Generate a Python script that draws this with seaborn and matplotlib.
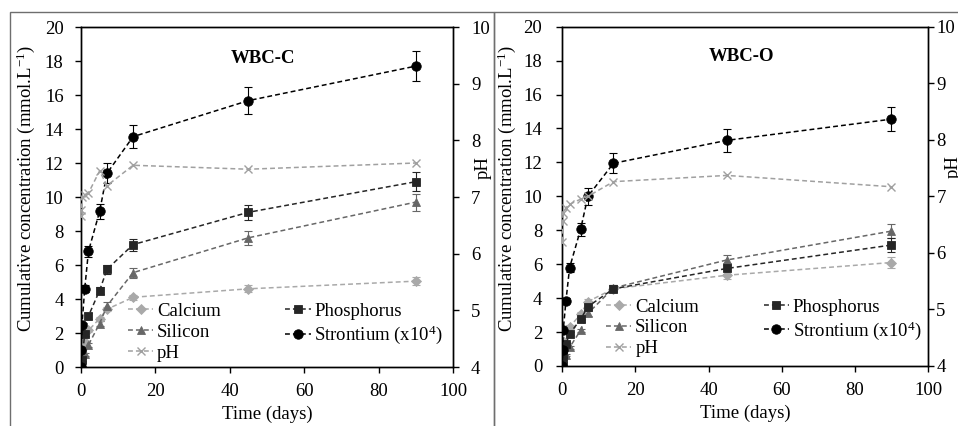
import numpy as np
import pandas as pd
import matplotlib
matplotlib.use("Agg")
import matplotlib.pyplot as plt
import seaborn as sns
from matplotlib.patches import Rectangle

# ---------------- data ----------------
time_days = [0, 0.083, 0.25, 1, 2, 5, 7, 14, 45, 90]

# WBC-C
c_calcium = [0, 0.3, 0.8, 1.5, 2.15, 2.85, 3.4, 4.1, 4.6, 5.05]
c_calcium_err = [0, 0.05, 0.05, 0.1, 0.1, 0.12, 0.12, 0.15, 0.2, 0.25]
c_phosphorus = [0, 0.15, 0.4, 1.95, 3.0, 4.5, 5.75, 7.2, 9.1, 10.9]
c_phosphorus_err = [0, 0.05, 0.05, 0.1, 0.15, 0.2, 0.25, 0.35, 0.45, 0.55]
c_silicon = [0, 0.1, 0.3, 0.75, 1.3, 2.55, 3.6, 5.55, 7.6, 9.7]
c_silicon_err = [0, 0.05, 0.05, 0.1, 0.1, 0.15, 0.2, 0.3, 0.4, 0.5]
c_strontium = [0, 1.02, 2.45, 4.6, 6.8, 9.15, 11.4, 13.55, 15.67, 17.7]
c_strontium_err = [0, 0.05, 0.1, 0.2, 0.3, 0.45, 0.6, 0.68, 0.78, 0.88]
c_ph = [6.66, 6.77, 7.0, 7.03, 7.07, 7.46, 7.2, 7.56, 7.49, 7.6]

# WBC-O
o_calcium = [0, 0.6, 1.5, 2.1, 2.3, 3.05, 3.8, 4.55, 5.35, 6.1]
o_calcium_err = [0, 0.05, 0.05, 0.1, 0.1, 0.12, 0.12, 0.15, 0.25, 0.3]
o_phosphorus = [0, 0.3, 0.7, 1.3, 1.9, 2.75, 3.5, 4.55, 5.75, 7.13]
o_phosphorus_err = [0, 0.05, 0.05, 0.1, 0.1, 0.15, 0.2, 0.2, 0.3, 0.4]
o_silicon = [0, 0.1, 0.3, 0.65, 1.1, 2.1, 3.1, 4.6, 6.25, 7.95]
o_silicon_err = [0, 0.05, 0.05, 0.05, 0.1, 0.1, 0.15, 0.2, 0.3, 0.42]
o_strontium = [0, 0.95, 2.1, 3.85, 5.8, 8.05, 10.0, 11.95, 13.3, 14.55]
o_strontium_err = [0, 0.05, 0.1, 0.15, 0.25, 0.4, 0.5, 0.6, 0.67, 0.72]
o_ph = [6.2, 6.57, 6.7, 6.8, 6.86, 6.95, 7.0, 7.26, 7.37, 7.17]

panel_titles = ["WBC-C", "WBC-O"]
series_labels = ["Calcium", "Phosphorus", "Silicon", "Strontium (x10$^{4}$)", "pH"]
x_ticks = [0, 20, 40, 60, 80, 100]
y_ticks = [0, 2, 4, 6, 8, 10, 12, 14, 16, 18, 20]
ph_ticks = [4, 5, 6, 7, 8, 9, 10]

# ---------------- style ----------------
sns.set_theme(style="ticks")
plt.rcParams["font.family"] = ["Liberation Serif", "DejaVu Serif"]
plt.rcParams["mathtext.default"] = "regular"
FS = 13.5

col_ca = "#a9a9a9"
col_p = "#262626"
col_si = "#676767"
col_sr = "#000000"
col_ph = "#a0a0a0"

W, H = 958, 426
fig = plt.figure(figsize=(W / 100, H / 100), dpi=100)
fig.patch.set_facecolor("white")


def fx(px):
    return px / W


def fy(py):
    return 1 - py / H


# chart frames
for x0, x1 in [(10, 494), (494, 980)]:
    fig.add_artist(Rectangle((fx(x0), -0.1), fx(x1 - x0), fy(12) + 0.1,
                             transform=fig.transFigure, fill=False,
                             edgecolor="#6e6e6e", linewidth=1.0, clip_on=False))

panels = [
    dict(rect=(81, 27, 453, 367), title=panel_titles[0],
         ca=c_calcium, ca_e=c_calcium_err, p=c_phosphorus, p_e=c_phosphorus_err,
         si=c_silicon, si_e=c_silicon_err, sr=c_strontium, sr_e=c_strontium_err, ph=c_ph,
         ylab=(-0.118, 0.524), phlab=(1.059, 0.588), rpad=8.5, lpad=8,
         title_pos=(0.488, 0.906), leg=(0.126, 0.189)),
    dict(rect=(562.3, 26.7, 928, 366), title=panel_titles[1],
         ca=o_calcium, ca_e=o_calcium_err, p=o_phosphorus, p_e=o_phosphorus_err,
         si=o_silicon, si_e=o_silicon_err, sr=o_strontium, sr_e=o_strontium_err, ph=o_ph,
         ylab=(-0.121, 0.523), phlab=(1.0465, 0.588), rpad=1.5, lpad=10,
         title_pos=(0.49, 0.911), leg=(0.12, 0.199)),
]

dash = (3.2, 2.0)

for pn in panels:
    x0, y0, x1, y1 = pn["rect"]
    ax = fig.add_axes([fx(x0), fy(y1), fx(x1 - x0), (y1 - y0) / H])
    ax2 = ax.twinx()

    specs = [
        ("Calcium", pn["ca"], pn["ca_e"], col_ca, "D", 5.2),
        ("Silicon", pn["si"], pn["si_e"], col_si, "^", 6.0),
        ("Phosphorus", pn["p"], pn["p_e"], col_p, "s", 6.2),
        ("Strontium", pn["sr"], pn["sr_e"], col_sr, "o", 6.8),
    ]
    handles = {}
    for name, vals, errs, col, mk, ms in specs:
        df = pd.DataFrame({"t": time_days, "v": vals})
        sns.lineplot(data=df, x="t", y="v", ax=ax, color=col, marker=mk,
                     markersize=ms, markeredgecolor=col, markeredgewidth=0.6,
                     linewidth=1.1, errorbar=None, legend=False, zorder=3)
        line = ax.lines[-1]
        line.set_dashes(dash)
        handles[name] = line
        ax.errorbar(time_days, vals, yerr=errs, fmt="none", ecolor=col,
                    elinewidth=0.8, capsize=2.8, capthick=0.8, zorder=2)

    dfp = pd.DataFrame({"t": time_days, "v": pn["ph"]})
    sns.lineplot(data=dfp, x="t", y="v", ax=ax2, color=col_ph, marker="x",
                 markersize=5.5, markeredgecolor=col_ph, markeredgewidth=1.0,
                 linewidth=1.1, errorbar=None, legend=False, zorder=3)
    ph_line = ax2.lines[-1]
    ph_line.set_dashes(dash)
    handles["pH"] = ph_line

    ax.set_xlim(0, 100)
    ax.set_ylim(0, 20)
    ax2.set_ylim(4, 10)
    ax.set_xticks(x_ticks)
    ax.set_yticks(y_ticks)
    ax2.set_yticks(ph_ticks)

    for a in (ax, ax2):
        for s in a.spines.values():
            s.set_color("black")
            s.set_linewidth(1.0)
        a.tick_params(direction="out", length=4.5, width=1.0, color="black",
                      labelsize=FS, labelcolor="black")
    ax.tick_params(axis="y", pad=pn["lpad"])
    ax.tick_params(axis="x", pad=7)
    ax2.tick_params(axis="y", pad=pn["rpad"])
    ax.set_facecolor("white")
    ax2.grid(False)
    ax.grid(False)

    ax.set_xlabel("Time (days)", fontsize=FS, color="black", labelpad=4)
    ax.set_ylabel("Cumulative concentration (mmol.L$^{-1}$)", fontsize=FS, color="black")
    ax.yaxis.set_label_coords(*pn["ylab"])
    ax2.set_ylabel("pH", fontsize=FS, color="black")
    ax2.yaxis.set_label_coords(*pn["phlab"])

    ax.text(pn["title_pos"][0], pn["title_pos"][1], pn["title"], transform=ax.transAxes,
            ha="center", va="center", fontsize=FS, fontweight="bold", color="black")

    order = ["Calcium", "Silicon", "pH", "Phosphorus", "Strontium"]
    labels = {"Calcium": series_labels[0], "Phosphorus": series_labels[1],
              "Silicon": series_labels[2], "Strontium": series_labels[3], "pH": series_labels[4]}
    leg = ax.legend([handles[k] for k in order], [labels[k] for k in order],
                    ncol=2, loc="upper left", bbox_to_anchor=pn["leg"],
                    frameon=False, fontsize=FS, handlelength=1.35,
                    handletextpad=0.2, columnspacing=3.45, labelspacing=0.2,
                    borderpad=0, borderaxespad=0)
    leg.set_zorder(5)
    for t in leg.get_texts():
        t.set_color("black")

fig.savefig("out.png", dpi=100, facecolor="white")
